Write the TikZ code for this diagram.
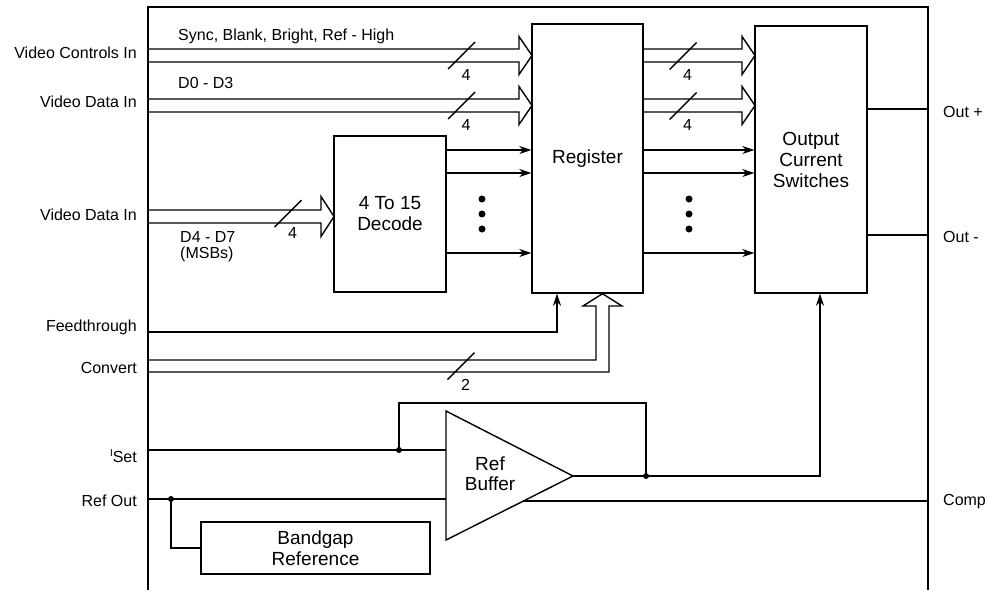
\documentclass[tikz,border=0pt]{standalone}
\usepackage{fontspec}
\setmainfont{Liberation Sans}
\usetikzlibrary{arrows.meta,calc}
\tikzset{
  wire/.style={line width=1.4pt},
  frameline/.style={line width=2.2pt},
  block/.style={draw, line width=1.4pt, rectangle, inner sep=0pt, align=center,
    font=\fontsize{19}{21}\selectfont},
  pinlabel/.style={font=\fontsize{16}{18}\selectfont, inner sep=0pt},
  sig/.style={wire, -{Stealth[length=12pt,width=8pt]}},
  junction/.style={circle, fill, inner sep=0pt, minimum size=6pt},
  bigdot/.style={circle, fill, inner sep=0pt, minimum size=7pt},
  num/.style={font=\fontsize{16}{18}\selectfont, inner sep=0pt}
}
% horizontal bus: start x, tip x, centre y, head half width
\newcommand{\hbus}[4]{%
  \draw[wire] (#1,#3-6.5) -- (#2-13,#3-6.5) -- (#2-13,#3-#4) -- (#2,#3)
    -- (#2-13,#3+#4) -- (#2-13,#3+6.5) -- (#1,#3+6.5);}
% slash mark with width number: name, x, y, label
\newcommand{\busslash}[4]{%
  \draw[wire] (#2-13.5,#3+13.5) -- (#2+13.5,#3-13.5);
  \node[num] (#1) at (#2+4.5,#3+19) {#4};}
\begin{document}
\begin{tikzpicture}[x=1pt,y=-1pt]
\useasboundingbox (0,0) rectangle (987,590);

% outer frame
\coordinate (fBL) at (148,590);
\coordinate (fTL) at (148,7);
\coordinate (fTR) at (928,7);
\coordinate (fBR) at (928,590);
\draw[frameline] (fBL) -- (fTL) -- (fTR) -- (fBR);

% blocks
\node[block, minimum width=111pt, minimum height=269pt] (reg) at (587.5,158.5) {Register};
\node[block, minimum width=112pt, minimum height=267pt] (ocs) at (811,159.5) {Output\\Current\\Switches};
\node[block, minimum width=112pt, minimum height=156pt] (dec) at (390,214) {4 To 15\\Decode};
\node[block, minimum width=229pt, minimum height=52pt] (bg) at (315.5,548) {Bandgap\\Reference};

% amplifier
\coordinate (ampA) at (446,411);
\coordinate (ampB) at (446,540);
\coordinate (ampT) at (573,476);
\draw[wire] (ampA) -- (ampT) -- (ampB) -- cycle;
\node[align=center, font=\fontsize{19}{20}\selectfont, inner sep=0pt] (amplbl) at (490,474) {Ref\\Buffer};

% pin labels left
\node[pinlabel, anchor=east] (lVC) at (137,53) {Video Controls In};
\node[pinlabel, anchor=east] (lVD1) at (137,102) {Video Data In};
\node[pinlabel, anchor=east] (lVD2) at (137,215) {Video Data In};
\node[pinlabel, anchor=east] (lFT) at (137,327) {Feedthrough};
\node[pinlabel, anchor=east] (lCV) at (137,368) {Convert};
\node[pinlabel, anchor=east] (lIS) at (137,456) {\raisebox{6pt}{\fontsize{10}{10}\selectfont I}Set};
\node[pinlabel, anchor=east] (lRO) at (137,501) {Ref Out};
% pin labels right
\node[pinlabel, anchor=west] (lOP) at (943,112) {Out +};
\node[pinlabel, anchor=west] (lOM) at (943,237) {Out -};
\node[pinlabel, anchor=west] (lCP) at (943,502) {Comp};

% bus labels
\node[pinlabel, anchor=base west] (tSync) at (178,40) {Sync, Blank, Bright, Ref - High};
\node[pinlabel, anchor=base west] (tD03) at (178,88) {D0 - D3};
\node[pinlabel, anchor=base west] (tD47a) at (180,242) {D4 - D7};
\node[pinlabel, anchor=base west] (tD47b) at (180,258) {(MSBs)};

% input buses
\hbus{148}{532}{55.5}{19}
\busslash{n1}{461.5}{55.5}{4}
\hbus{148}{532}{105.5}{19}
\busslash{n2}{461.5}{105.5}{4}
\hbus{148}{334}{216.5}{20}
\busslash{n3}{288}{213.5}{4}

% register to output switches buses
\hbus{643}{755}{55.5}{19}
\busslash{n4}{683}{56}{4}
\hbus{643}{755}{105.5}{19}
\busslash{n5}{683}{106}{4}

% decode to register, register to output switches
\foreach \yy in {150,173,253} {
  \draw[sig] (dec.east |- {(0,\yy)}) -- (reg.west |- {(0,\yy)});
  \draw[sig] (reg.east |- {(0,\yy)}) -- (ocs.west |- {(0,\yy)});
}
\foreach \yy [count=\i] in {199,214,229} {
  \node[bigdot] (da\i) at (482,\yy) {};
  \node[bigdot] (db\i) at (689,\yy) {};
}

% outputs
\coordinate (pOP) at (928,109);
\coordinate (pOM) at (928,235);
\draw[wire] (ocs.east |- pOP) -- (pOP);
\draw[wire] (ocs.east |- pOM) -- (pOM);

% feedthrough
\coordinate (pFT) at (148,332);
\draw[sig] (pFT) -| ($(reg.south)+(-30.5,0)$);

% convert bus (2 bits)
\coordinate (pCV) at (148,366);
\draw[wire] (148,360) -- (596,360) -- (596,306) -- (583,306) -- (reg.south -| 602.5,0)
  -- (622,306) -- (609,306) -- (609,372) -- (148,372);
\busslash{n6}{461}{366}{2}

% Iset and feedback
\coordinate (pIS) at (148,450);
\node[junction] (jIn) at (399,450) {};
\node[junction] (jOut) at (646,476) {};
\draw[wire] (pIS) -- (ampA |- pIS);
\draw[wire] (jIn.center) -- (399,403) -- (646,403) -- (jOut.center);
\draw[sig] (ampT) -| ($(ocs.south)+(9,0)$);

% Ref out and bandgap
\coordinate (pRO) at (148,499);
\node[junction] (jRef) at (171,499) {};
\draw[wire] (pRO) -- (ampA |- pRO);
\draw[wire] (jRef.center) |- (bg.west);

% comp
\coordinate (ampC) at ($(ampB)!0.609375!(ampT)$);
\coordinate (pCP) at (928,501);
\draw[wire] (ampC) -- (ampC -| pCP);
\end{tikzpicture}
\end{document}
